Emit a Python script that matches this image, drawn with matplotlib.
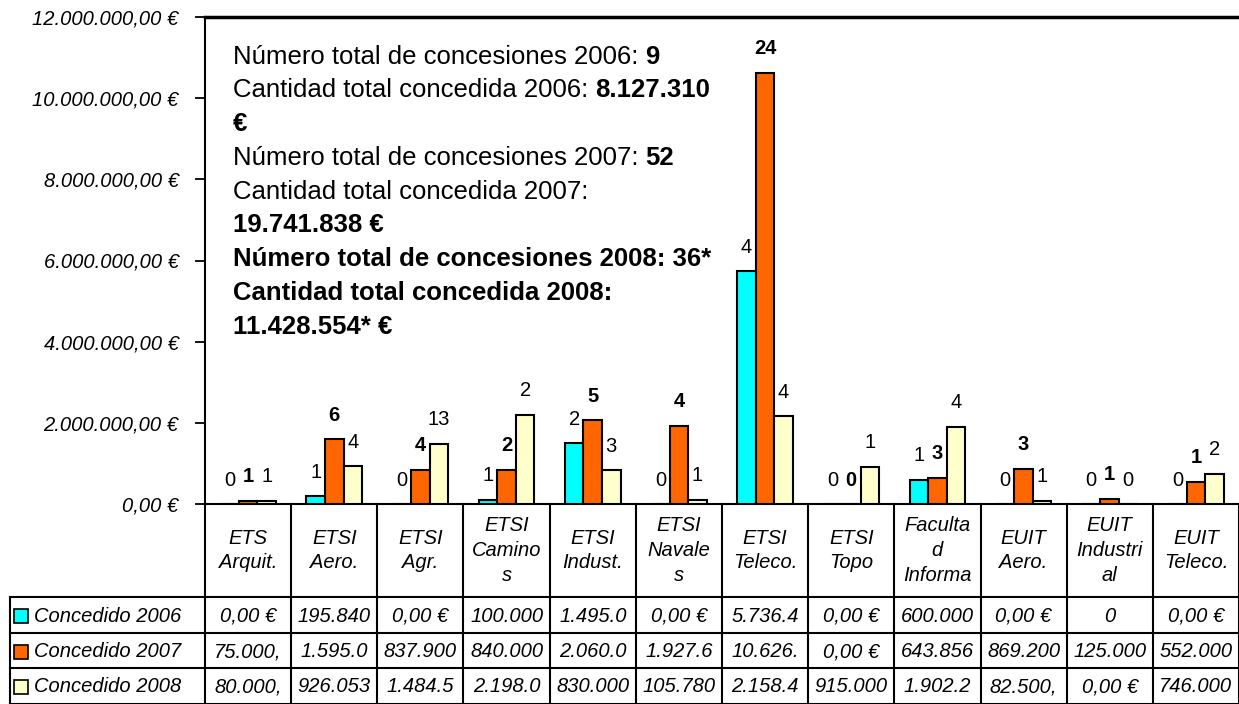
import numpy as np
import matplotlib
matplotlib.use('Agg')
import matplotlib.pyplot as plt
from matplotlib.lines import Line2D
from matplotlib.patches import Rectangle
from matplotlib.ticker import FuncFormatter
from matplotlib.transforms import blended_transform_factory

plt.rcParams['font.family'] = ['Liberation Sans', 'DejaVu Sans']

# Centros (texto partido como en la hoja de cálculo)
centros = ['ETS\nArquit.', 'ETSI\nAero.', 'ETSI\nAgr.', 'ETSI\nCamino\ns', 'ETSI\nIndust.',
           'ETSI\nNavale\ns', 'ETSI\nTeleco.', 'ETSI\nTopo', 'Faculta\nd\nInforma',
           'EUIT\nAero.', 'EUIT\nIndustri\nal', 'EUIT\nTeleco.']

# Importe concedido (€)
conc_2006 = [0, 195840, 0, 100000, 1495000, 0, 5736400, 0, 600000, 0, 0, 0]
conc_2007 = [75000, 1595000, 837900, 840000, 2060000, 1927600, 10626000, 0, 643856, 869200, 125000, 552000]
conc_2008 = [80000, 926053, 1484500, 2198000, 830000, 105780, 2158400, 915000, 1902200, 82500, 0, 746000]

# Número de concesiones
num_2006 = [0, 1, 0, 1, 2, 0, 4, 0, 1, 0, 0, 0]
num_2007 = [1, 6, 4, 2, 5, 4, 24, 0, 3, 3, 1, 1]
num_2008 = [1, 4, 13, 2, 3, 1, 4, 1, 4, 1, 0, 2]

series = ['Concedido 2006', 'Concedido 2007', 'Concedido 2008']
colores = ['#00FFFF', '#FF6600', '#FFFFCC']

W, H = 1239, 704
fig = plt.figure(figsize=(W / 100, H / 100), dpi=100)
ax = fig.add_axes([205 / W, 1 - 504 / H, 1 - 205 / W, (504 - 17) / H])


def fx(px):
    return px / W


def fy(py):
    return 1 - py / H


def euros(v, pos=None):
    s = f'{v:,.2f} €'
    return s.replace(',', 'X').replace('.', ',').replace('X', '.')


def celda(v):
    # la celda corta el texto a 7 caracteres
    s = euros(v)
    return s if len(s) <= 7 else s[:7]


x = np.arange(len(centros))
ancho = 0.215
datos = [conc_2006, conc_2007, conc_2008]
numeros = [num_2006, num_2007, num_2008]

for k, (vals, nums, col) in enumerate(zip(datos, numeros, colores)):
    pos = x + (k - 1) * ancho
    ax.bar(pos, vals, width=ancho, color=col, edgecolor='black', linewidth=1.5, zorder=3)
    for xi, v, n in zip(pos, vals, nums):
        ax.annotate(str(n), xy=(xi, v), xytext=(0, 24), textcoords='offset pixels',
                    ha='center', va='center', fontsize=14.5,
                    fontweight='bold' if k == 1 else 'normal')

ax.set_xlim(-0.5, 11.5)
ax.set_ylim(0, 12000000)
ax.set_yticks(np.arange(0, 12000001, 2000000))
ax.yaxis.set_major_formatter(FuncFormatter(euros))
ax.tick_params(axis='y', length=7, width=1.3, pad=12, labelsize=14.5)
for lab in ax.get_yticklabels():
    lab.set_fontstyle('italic')
ax.set_xticks([])
ax.spines['right'].set_visible(False)
for s in ['left', 'bottom']:
    ax.spines[s].set_linewidth(1.5)
ax.spines['top'].set_linewidth(2.5)

# Resumen de totales
fs = 18.5
lineas = [
    [('Número total de concesiones 2006: ', 'normal'), ('9', 'bold')],
    [('Cantidad total concedida 2006: ', 'normal'), ('8.127.310', 'bold')],
    [('€', 'bold')],
    [('Número total de concesiones 2007: ', 'normal'), ('52', 'bold')],
    [('Cantidad total concedida 2007:', 'normal')],
    [('19.741.838 €', 'bold')],
    [('Número total de concesiones 2008: 36*', 'bold')],
    [('Cantidad total concedida 2008:', 'bold')],
    [('11.428.554* €', 'bold')],
]
for i, partes in enumerate(lineas):
    y = 56.7 + 33.75 * i
    prev = None
    for texto, peso in partes:
        if prev is None:
            prev = fig.text(fx(233), fy(y), texto, fontsize=fs, fontweight=peso,
                            ha='left', va='center')
        else:
            prev = ax.annotate(texto, xy=(1, 0), xycoords=prev, ha='left', va='bottom',
                               fontsize=fs, fontweight=peso)

# Tabla de datos
tr = blended_transform_factory(ax.transData, fig.transFigure)
y_cab, y_fin = 504, 597
filas = [597, 633, 668, 704]
lw = 1.5
fs_tabla = 14.5

for b in np.arange(-0.5, 12, 1.0):
    fig.add_artist(Line2D([b, b], [fy(y_cab), fy(H)], transform=tr, color='black', lw=lw))
for i, nombre in enumerate(centros):
    fig.text(i, fy((y_cab + y_fin) / 2), nombre, transform=tr, ha='center', va='center',
             fontsize=fs_tabla, fontstyle='italic', linespacing=1.4)

for yl in filas:
    fig.add_artist(Line2D([fx(10), 1], [fy(yl), fy(yl)], color='black', lw=lw))
fig.add_artist(Line2D([fx(10), fx(10)], [fy(filas[0]), fy(H)], color='black', lw=lw))

for r, (nombre, col, vals) in enumerate(zip(series, colores, datos)):
    yc = (filas[r] + filas[r + 1]) / 2 + 1
    fig.add_artist(Rectangle((fx(14), fy(yc + 7)), 14 / W, 14 / H, facecolor=col,
                             edgecolor='black', lw=1.2))
    fig.text(fx(34), fy(yc), nombre, ha='left', va='center', fontsize=fs_tabla,
             fontstyle='italic')
    textos = [celda(v) for v in vals]
    if r == 0:
        textos[10] = '0'
    for i, t in enumerate(textos):
        fig.text(i, fy(yc), t, transform=tr, ha='center', va='center',
                 fontsize=fs_tabla, fontstyle='italic')

fig.savefig('out.png', dpi=100)
